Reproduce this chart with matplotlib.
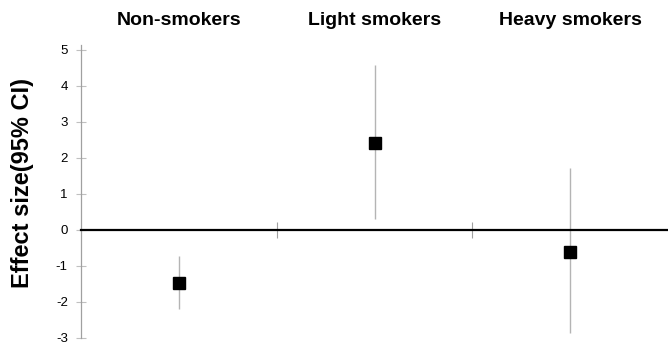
import matplotlib.pyplot as plt
import numpy as np

# groups and effect sizes with 95% CI
groups = ['Non-smokers', 'Light smokers', 'Heavy smokers']
effect = [-1.47, 2.42, -0.61]
ci_low = [-2.19, 0.31, -2.86]
ci_high = [-0.72, 4.58, 1.72]
yticks = [-3, -2, -1, 0, 1, 2, 3, 4, 5]

plt.rcParams['font.family'] = ['Liberation Sans', 'DejaVu Sans']

fig = plt.figure(figsize=(6.68, 3.47), dpi=100)
ax = fig.add_axes([81 / 668, 0.026, 1 - 81 / 668, 0.8715 - 0.026])

x = np.arange(len(groups))
eff = np.array(effect)
yerr = [eff - np.array(ci_low), np.array(ci_high) - eff]
ax.errorbar(x, eff, yerr=yerr, fmt='none', ecolor='#b4b4b4', elinewidth=1.0, capsize=0, zorder=2)
ax.plot(x, eff, 's', color='black', ms=8.6, zorder=3)

ax.set_xlim(-0.5, 2.5)
ax.set_ylim(-3.0, 5.15)

# zero line is the x axis, with separators between groups
ax.spines['bottom'].set_position(('data', 0))
ax.spines['bottom'].set_color('black')
ax.spines['bottom'].set_linewidth(1.6)
ax.spines['bottom'].set_zorder(4)
ax.spines['top'].set_visible(False)
ax.spines['right'].set_visible(False)
ax.spines['left'].set_color('#a0a0a0')
ax.spines['left'].set_linewidth(0.9)
ax.set_xticks([0.5, 1.5])
ax.set_xticklabels([])
ax.tick_params(axis='x', direction='inout', length=12, width=0.8, color='#a0a0a0')

ax.set_yticks(yticks)
ax.set_yticklabels([str(t) for t in yticks])
ax.tick_params(axis='y', direction='inout', length=7, width=0.8, color='#c0c0c0',
               labelsize=9.5, pad=6)

ax.set_ylabel('Effect size(95% CI)', fontsize=17, fontweight='bold')
ax.yaxis.set_label_coords(-0.08, 0.527)

top = ax.secondary_xaxis('top')
top.set_xticks(x)
top.set_xticklabels(groups, fontsize=14, fontweight='bold')
top.tick_params(length=0, pad=11)
top.spines['top'].set_visible(False)

fig.savefig('out.png', dpi=100)
